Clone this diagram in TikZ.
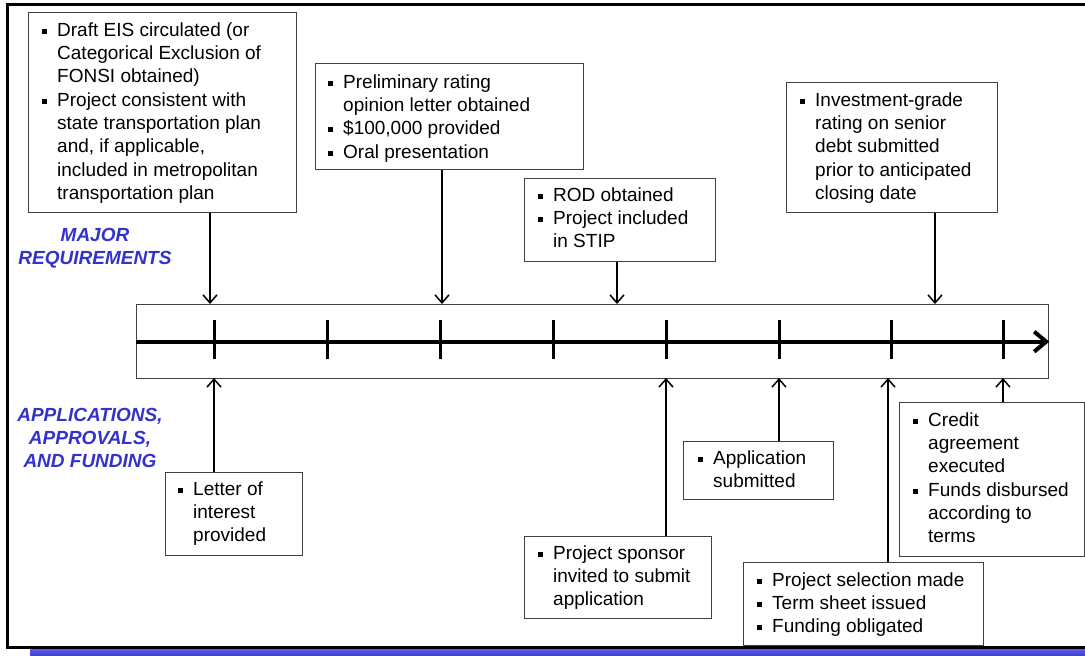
\documentclass[tikz,border=0pt]{standalone}
\usepackage{fontspec}
\setmainfont{Liberation Sans}
\usetikzlibrary{arrows.meta}
\definecolor{lblue}{RGB}{51,51,204}
\definecolor{bartop}{RGB}{95,95,225}
\definecolor{barbot}{RGB}{40,40,200}
\newcommand\bu{\makebox[15pt][l]{\rule[2.5pt]{5pt}{5pt}}\rule{0pt}{14pt}}
\newcommand\ct{\hspace*{15pt}\rule{0pt}{14pt}}
\begin{document}
\begin{tikzpicture}[x=1pt,y=-1pt,
  box/.style={draw=black!75,line width=1.3pt,fill=white,anchor=north west,inner sep=0pt},
  txt/.style={anchor=north west,inner sep=0pt,align=left,font=\fontsize{19pt}{23.3pt}\selectfont},
  lbl/.style={anchor=north,inner sep=0pt,align=center,text=lblue,font=\fontsize{19pt}{22.8pt}\selectfont\bfseries\itshape},
  arr/.style={line width=1.5pt,-{Straight Barb[length=8pt,width=14pt]}},
  tickmark/.style={line width=3pt}]
\useasboundingbox (0,0) rectangle (1085,656);
\fill[white] (0,0) rectangle (1085,656);
\clip (0,0) rectangle (1085,656);
% outer frame and bottom bar
\draw[line width=3pt] (7,4) rectangle (1100,647);
\shade[top color=bartop,bottom color=barbot] (30,649) rectangle (1095,660);
% boxes
\node[box,minimum width=268pt,minimum height=200pt] (b1) at (28,12) {};
\node[box,minimum width=268pt,minimum height=106pt] (b2) at (315,63) {};
\node[box,minimum width=191pt,minimum height=83pt] (b3) at (524,178) {};
\node[box,minimum width=211pt,minimum height=130pt] (b4) at (786,82) {};
\node[box,minimum width=912pt,minimum height=74pt] (tl) at (136,304) {};
\node[box,minimum width=137pt,minimum height=83pt] (b5) at (165,472) {};
\node[box,minimum width=187pt,minimum height=82pt] (b6) at (524,536) {};
\node[box,minimum width=150pt,minimum height=58pt] (b7) at (683,441) {};
\node[box,minimum width=240pt,minimum height=83pt] (b8) at (743,562) {};
\node[box,minimum width=185pt,minimum height=154pt] (b9) at (899,402) {};
% texts
\node[txt] (b1t) at (42,22) {\bu Draft EIS circulated (or\\ \ct Categorical Exclusion of\\ \ct FONSI obtained)\\ \bu Project consistent with\\ \ct state transportation plan\\ \ct and, if applicable,\\ \ct included in metropolitan\\ \ct transportation plan};
\node[txt] (b2t) at (328,74) {\bu Preliminary rating\\ \ct opinion letter obtained\\ \bu \$100,000 provided\\ \bu Oral presentation};
\node[txt] (b3t) at (538,187) {\bu ROD obtained\\ \bu Project included\\ \ct in STIP};
\node[txt] (b4t) at (800,92) {\bu Investment-grade\\ \ct rating on senior\\ \ct debt submitted\\ \ct prior to anticipated\\ \ct closing date};
\node[txt] (b5t) at (178,481) {\bu Letter of\\ \ct interest\\ \ct provided};
\node[txt] (b6t) at (538,545) {\bu Project sponsor\\ \ct invited to submit\\ \ct application};
\node[txt] (b7t) at (698,450) {\bu Application\\ \ct submitted};
\node[txt] (b8t) at (757,572) {\bu Project selection made\\ \bu Term sheet issued\\ \bu Funding obligated};
\node[txt] (b9t) at (913,412) {\bu Credit\\ \ct agreement\\ \ct executed\\ \bu Funds disbursed\\ \ct according to\\ \ct terms};
% labels
\node[lbl] (major) at (95,228) {MAJOR\\REQUIREMENTS};
\node[lbl] (apps) at (90,408) {APPLICATIONS,\\APPROVALS,\\AND FUNDING};
% timeline axis
\draw[line width=4pt,-{Straight Barb[length=12pt,width=20pt]}] (tl.west) -- (tl.east);
\foreach \x in {214,327,440,553,666,779,891,1003}
  \draw[tickmark] (\x,320) -- (\x,359);
% arrow targets on the timeline box
\coordinate (ta1) at (210,304);
\coordinate (ta2) at (442,304);
\coordinate (ta3) at (617,304);
\coordinate (ta4) at (935,304);
\coordinate (ub1) at (214,378);
\coordinate (ub2) at (666,378);
\coordinate (ub3) at (779,378);
\coordinate (ub4) at (888,378);
\coordinate (ub5) at (1003,378);
\draw[arr] (b1.south -| ta1) -- (ta1);
\draw[arr] (b2.south -| ta2) -- (ta2);
\draw[arr] (b3.south -| ta3) -- (ta3);
\draw[arr] (b4.south -| ta4) -- (ta4);
\draw[arr] (b5.north -| ub1) -- (ub1);
\draw[arr] (b6.north -| ub2) -- (ub2);
\draw[arr] (b7.north -| ub3) -- (ub3);
\draw[arr] (b8.north -| ub4) -- (ub4);
\draw[arr] (b9.north -| ub5) -- (ub5);
\end{tikzpicture}
\end{document}
